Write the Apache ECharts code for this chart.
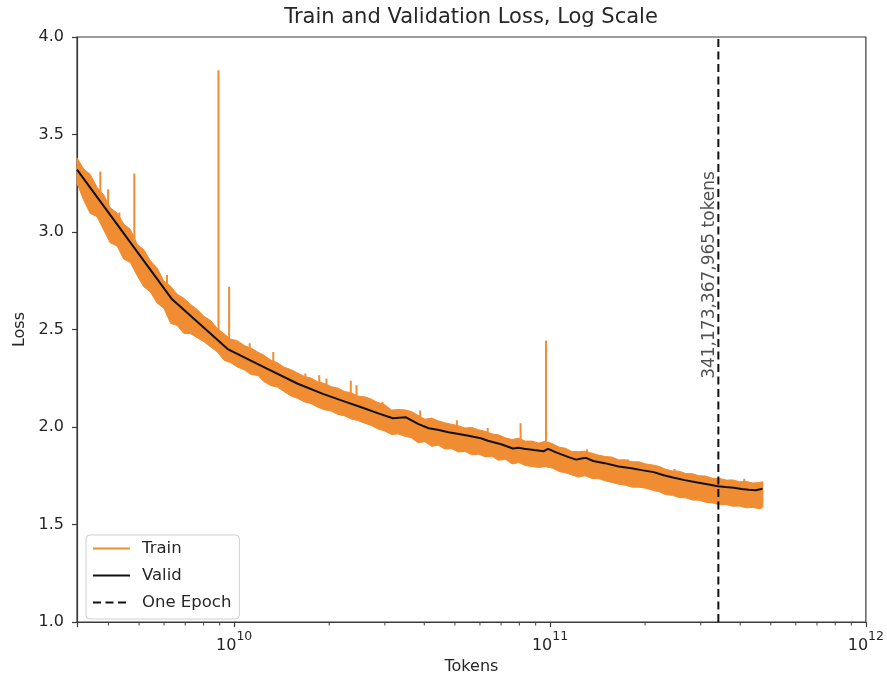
<!DOCTYPE html>
<html><head><meta charset="utf-8">
<script src="https://cdn.jsdelivr.net/npm/echarts@6/dist/echarts.min.js"></script>
<style>html,body{margin:0;padding:0;background:#fff}#c{width:887px;height:680px}</style>
</head><body><div id="c"></div>
<script>
const TITLE = 'Train and Validation Loss, Log Scale';
const X_NAME = 'Tokens';
const Y_NAME = 'Loss';
const X_MIN = 3.18e9, X_MAX = 1e12;
const Y_MIN = 1.0, Y_MAX = 4.0, Y_STEP = 0.5;
const EPOCH_TOKENS = 341173367965;
const EPOCH_LABEL = '341,173,367,965 tokens';
const EPOCH_LABEL_Y = 2.78;

// Train loss envelope (tokens in billions)
const trainTokensB = [3.18,3.34,3.5,3.68,3.86,4.05,4.26,4.47,4.69,4.93,5.17,5.43,5.7,5.99,6.29,6.6,6.93,7.28,7.64,8.03,8.43,8.85,9.29,9.76,10.2,10.8,11.3,11.9,12.4,13.1,13.7,14.4,15.1,15.9,16.7,17.5,18.4,19.3,20.3,21.3,22.3,23.5,24.6,25.9,27.2,28.5,30,31.5,33,34.7,36.4,38.2,40.2,42.2,44.3,46.5,48.8,51.3,53.8,56.5,59.4,62.3,65.5,68.7,72.2,75.8,79.6,83.5,87.7,92.1,96.7,102,107,112,117,123,129,136,143,150,157,165,173,182,191,201,211,221,232,244,256,269,282,297,311,327,343,361,379,398,418,439,461,472];
const trainHigh = [3.38,3.323,3.296,3.229,3.192,3.125,3.098,3.041,3.014,2.937,2.91,2.853,2.816,2.749,2.722,2.681,2.66,2.629,2.603,2.567,2.546,2.505,2.478,2.45,2.444,2.417,2.405,2.384,2.369,2.342,2.33,2.307,2.295,2.277,2.259,2.251,2.232,2.224,2.207,2.2,2.183,2.176,2.159,2.155,2.143,2.126,2.114,2.087,2.09,2.088,2.08,2.06,2.04,2.046,2.032,2.022,2.014,2.007,1.995,1.998,1.986,1.978,1.965,1.96,1.945,1.936,1.943,1.928,1.928,1.918,1.927,1.914,1.897,1.891,1.875,1.874,1.876,1.866,1.855,1.849,1.846,1.832,1.832,1.822,1.822,1.811,1.806,1.799,1.784,1.775,1.774,1.762,1.761,1.75,1.749,1.737,1.737,1.728,1.729,1.72,1.721,1.713,1.716,1.72];
const trainLow = [3.25,3.163,3.096,3.079,3.012,2.945,2.928,2.861,2.844,2.777,2.72,2.693,2.636,2.609,2.532,2.521,2.48,2.479,2.458,2.437,2.411,2.385,2.343,2.33,2.309,2.292,2.27,2.264,2.234,2.212,2.205,2.182,2.16,2.147,2.129,2.121,2.102,2.089,2.082,2.065,2.058,2.041,2.034,2.02,2.008,1.991,1.979,1.962,1.965,1.953,1.945,1.92,1.925,1.901,1.907,1.887,1.889,1.872,1.875,1.858,1.861,1.848,1.85,1.83,1.835,1.811,1.818,1.803,1.798,1.793,1.797,1.789,1.772,1.766,1.755,1.744,1.751,1.736,1.735,1.724,1.716,1.707,1.702,1.692,1.692,1.686,1.676,1.669,1.654,1.65,1.639,1.637,1.626,1.625,1.614,1.612,1.602,1.603,1.594,1.595,1.586,1.588,1.581,1.59];

// Train loss spikes (tokens in billions)
const spikeTokensB = [3.77,3.99,4.33,4.83,6.13,8.92,9.64,11.2,13.3,16.8,18.6,19.6,23.4,24.4,29.5,38.8,50.7,63.5,80.7,97.1,131,176,248,412];
const spikeBase = [3.15,3.10,3.0,2.90,2.68,2.44,2.41,2.39,2.32,2.24,2.21,2.20,2.15,2.14,2.09,2.04,1.99,1.96,1.93,1.92,1.86,1.81,1.76,1.71];
const spikeTop = [3.31,3.22,3.10,3.30,2.78,3.83,2.72,2.43,2.385,2.275,2.266,2.249,2.237,2.215,2.13,2.085,2.035,1.995,2.02,2.444,1.885,1.835,1.785,1.735];

// Validation loss (tokens in billions)
const validTokensB = [3.18,6.36,9.54,12.7,15.9,19.1,22.3,25.4,28.6,31.8,35.0,38.2,41.3,44.5,47.7,50.9,54.1,57.2,60.4,63.6,70.0,76.3,79.5,82.7,89.0,95.4,98.6,105,114.5,121,127,130,137,149,165,181,197,213,229,245,267,293,318,340,359,382,404,426,448,471];
const validLoss = [3.32,2.655,2.40,2.30,2.222,2.17,2.132,2.10,2.07,2.045,2.05,2.016,1.994,1.985,1.973,1.966,1.958,1.950,1.943,1.930,1.912,1.890,1.894,1.889,1.882,1.876,1.888,1.869,1.846,1.833,1.840,1.842,1.826,1.815,1.798,1.789,1.778,1.769,1.753,1.741,1.728,1.716,1.706,1.697,1.693,1.689,1.683,1.679,1.676,1.684];

// Minor tick positions on the log axis
const minorTicks = [4e9,5e9,6e9,7e9,8e9,9e9,2e10,3e10,4e10,5e10,6e10,7e10,8e10,9e10,2e11,3e11,4e11,5e11,6e11,7e11,8e11,9e11];

const ORANGE = '#f08c32';
const TEXT = '#262626';
const AXIS = '#3a3a3a';
const FONT = 'DejaVu Sans';
const B = 1e9;

const bandData = trainTokensB.map((t, i) => [t * B, trainLow[i], trainHigh[i]]);
const spikeData = [];
spikeTokensB.forEach((t, i) => {
  spikeData.push([t * B, spikeBase[i]]);
  spikeData.push([t * B, spikeTop[i]]);
  spikeData.push([t * B, null]);
});
const validData = validTokensB.map((t, i) => [t * B, validLoss[i]]);

const chart = echarts.init(document.getElementById('c'), null, {renderer: 'canvas'});
chart.setOption({
  backgroundColor: '#fff',
  animation: false,
  textStyle: {fontFamily: FONT},
  title: {
    text: TITLE, left: 471, top: 7, textAlign: 'center', padding: 0,
    textStyle: {fontSize: 21, fontWeight: 'normal', color: TEXT, fontFamily: FONT}
  },
  grid: {left: 77, right: 21, top: 37, bottom: 55, show: true, borderColor: AXIS, borderWidth: 1.2, backgroundColor: 'transparent'},
  legend: {
    data: ['Train', 'Valid', 'One Epoch'],
    orient: 'vertical', left: 86, top: 535,
    itemWidth: 37, itemHeight: 14, itemGap: 10,
    padding: [5, 8, 8, 6],
    borderColor: '#d0d0d0', borderWidth: 1, borderRadius: 4,
    backgroundColor: 'rgba(255,255,255,0.85)',
    itemStyle: {opacity: 0},
    textStyle: {fontSize: 16.5, color: TEXT, fontFamily: FONT, padding: [0, 0, 0, 7]},
    selectedMode: false
  },
  xAxis: {
    type: 'log', logBase: 10, min: X_MIN, max: X_MAX,
    name: X_NAME, nameLocation: 'middle', nameGap: 29,
    nameTextStyle: {fontSize: 16, color: TEXT, fontFamily: FONT},
    axisLine: {show: true, lineStyle: {color: AXIS, width: 1.2}},
    axisTick: {show: true, inside: false, length: 5, lineStyle: {color: AXIS, width: 1.2}},
    splitLine: {show: false},
    minorTick: {show: false},
    axisLabel: {
      margin: 8, color: TEXT,
      formatter: function (v) {
        const e = Math.log10(v);
        if (Math.abs(e - Math.round(e)) < 1e-6) return '{b|10}{s|' + Math.round(e) + '}';
        return '';
      },
      rich: {
        b: {fontSize: 16, color: TEXT, fontFamily: FONT, lineHeight: 24, verticalAlign: 'bottom'},
        s: {fontSize: 12.5, color: TEXT, fontFamily: FONT, verticalAlign: 'top', lineHeight: 14}
      }
    }
  },
  yAxis: {
    type: 'value', min: Y_MIN, max: Y_MAX, interval: Y_STEP,
    name: Y_NAME, nameLocation: 'middle', nameGap: 47,
    nameTextStyle: {fontSize: 16, color: TEXT, fontFamily: FONT},
    axisLine: {show: true, lineStyle: {color: AXIS, width: 1.2}},
    axisTick: {show: true, inside: false, length: 5, lineStyle: {color: AXIS, width: 1.2}},
    splitLine: {show: false},
    axisLabel: {fontSize: 16, color: TEXT, margin: 13, formatter: v => v.toFixed(1)}
  },
  series: [
    {
      name: 'Train', type: 'line', data: spikeData, symbol: 'none', connectNulls: false,
      lineStyle: {color: ORANGE, width: 2}, itemStyle: {color: ORANGE}, z: 3
    },
    {
      name: 'Train', type: 'custom', data: bandData, z: 2,
      encode: {x: 0, y: [1, 2]},
      renderItem: function (params, api) {
        if (params.dataIndex !== 0) return null;
        const pts = [];
        for (let i = 0; i < bandData.length; i++) pts.push(api.coord([bandData[i][0], bandData[i][2]]));
        for (let i = bandData.length - 1; i >= 0; i--) pts.push(api.coord([bandData[i][0], bandData[i][1]]));
        return {type: 'polygon', shape: {points: pts}, style: {fill: ORANGE, stroke: ORANGE, lineWidth: 1}};
      }
    },
    {
      name: 'Valid', type: 'line', data: validData, symbol: 'none',
      lineStyle: {color: '#111', width: 2}, itemStyle: {color: '#111'}, z: 4
    },
    {
      name: 'One Epoch', type: 'line', data: [[EPOCH_TOKENS, Y_MIN], [EPOCH_TOKENS, Y_MAX]], symbol: 'none',
      lineStyle: {color: '#111', width: 2, type: [8, 4.5]}, itemStyle: {color: '#111'}, z: 5
    },
    {
      name: 'epochLabel', type: 'scatter', data: [[EPOCH_TOKENS, EPOCH_LABEL_Y]], symbolSize: 1, silent: true,
      itemStyle: {color: 'rgba(0,0,0,0)'}, z: 6,
      label: {show: true, formatter: EPOCH_LABEL, rotate: 90, position: 'inside', align: 'center', verticalAlign: 'bottom',
        offset: [0, 0],
        fontSize: 17, color: TEXT, fontFamily: FONT}
    },
    {
      name: 'minorTicks', type: 'scatter', data: minorTicks.map(v => [v, Y_MIN]), symbol: 'rect',
      symbolSize: [1.2, 3], symbolOffset: [0, 2], clip: false, silent: true,
      itemStyle: {color: AXIS}, z: 6
    }
  ]
});
</script>
</body></html>
